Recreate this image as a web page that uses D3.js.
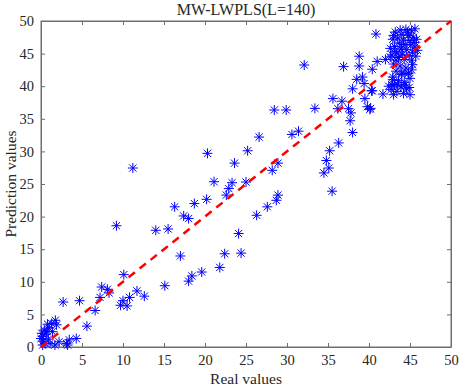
<!DOCTYPE html>
<html>
<head>
<meta charset="utf-8">
<script src="https://cdn.jsdelivr.net/npm/d3@7"></script>
<style>
html,body{margin:0;padding:0;background:#fff;}
svg{display:block;}
text{font-family:"Liberation Serif","Times New Roman",serif;fill:#262626;}
</style>
</head>
<body>
<script>
const titleText = "MW-LWPLS(L=140)";
const xLabel = "Real values";
const yLabel = "Prediction values";
const xTicks = [0,5,10,15,20,25,30,35,40,45,50];
const yTicks = [0,5,10,15,20,25,30,35,40,45,50];
const domainX = [0,50];
const domainY = [0,50];

// Real values
const realValues = [
 0.0,0.2,0.1,0.4,0.6,0.9,1.0,0.8,1.3,1.75,1.9,1.4,0.5,0.2,1.1,1.7,2.2,3.1,3.45,4.3,3.25,2.7,4.7,7.2,6.6,5.6,0.3,0.7,
 7.4,8.1,8.3,10.0,9.7,10.5,10.8,11.7,12.6,10.1,15.1,9.2,14.0,15.5,17.0,16.3,18.7,20.2,17.4,18.0,18.4,18.0,19.6,21.8,22.4,21.1,22.9,22.6,11.2,
 32.1,36.9,38.8,40.4,41.0,38.5,39.2,39.4,38.0,40.4,35.6,36.7,39.5,36.2,37.5,37.8,39.8,40.1,37.7,38.0,33.4,28.45,29.9,31.4,30.6,26.6,36.3,35.2,25.2,20.3,23.6,34.8,35.1,34.5,28.9,28.2,35.5,23.3,25.0,28.9,28.7,27.6,26.3,24.1,24.4,38.8,
 40.85,42.0,42.6,43.2,44.0,44.8,42.9,42.8,43.5,44.4,40.3,41.7,40.2,45.2,44.9,45.0,
 43.2,43.8,44.5,45.2,45.6,44.0,44.8,45.4,43.5,42.9,44.2,45.0,45.8,43.7,44.4,45.1,45.6,43.1,42.6,43.9,44.6,45.3,43.4,44.1,44.9,45.7,42.8,43.6,44.3,45.2,45.9,44.7,43.0,45.5,44.0,43.3,
 43.0,43.8,44.5,43.3,44.0,44.8,42.9,43.6,44.3,43.1,43.9,44.6,42.7,43.4,44.2,43.0,42.4,45.0,45.3
];
// Prediction values
const predValues = [
 1.3,1.6,2.1,2.6,1.95,1.2,2.9,3.5,3.6,4.1,3.4,2.35,0.55,0.3,0.55,0.3,0.8,0.55,1.1,1.3,0.3,6.9,7.1,7.6,5.6,3.2,0.9,2.4,
 9.2,8.85,8.3,7.1,6.4,6.3,7.6,8.6,7.8,11.1,9.4,18.6,17.9,18.1,13.96,21.5,22.0,22.65,20.1,19.7,10.9,10.1,11.5,12.2,14.3,25.35,24.3,23.3,27.45,
 43.25,43.0,43.1,42.6,43.8,41.05,41.4,40.4,39.6,39.3,38.1,37.7,38.1,36.55,36.55,35.9,36.85,36.45,34.7,32.9,36.6,36.35,36.35,33.1,32.6,32.2,31.3,30.1,30.1,29.7,28.2,28.6,27.45,26.7,28.2,27.1,23.9,25.2,25.3,23.3,22.5,21.5,20.2,17.4,14.4,44.6,
 48.0,44.1,44.5,45.3,42.0,42.0,41.0,40.2,40.2,40.2,39.3,38.8,36.6,42.5,39.8,38.7,
 48.3,48.6,48.7,48.5,48.8,47.9,47.8,47.5,47.4,47.2,47.1,47.0,47.2,46.6,46.4,46.3,46.0,46.1,45.8,45.7,45.6,45.2,45.1,44.9,44.7,44.6,44.8,44.4,44.1,44.0,45.5,48.2,47.8,46.7,46.0,44.0,
 43.4,43.1,42.8,42.3,41.8,42.0,41.4,40.9,40.6,40.2,39.9,39.6,39.5,39.2,38.9,38.7,40.0,41.2,43.3
];

const W = 461, H = 388;
const m = {left:41, right:10, top:21, bottom:41};
const svg = d3.select("body").append("svg").attr("width",W).attr("height",H);

const x = d3.scaleLinear().domain(domainX).range([m.left, W-m.right]);
const y = d3.scaleLinear().domain(domainY).range([H-m.bottom, m.top]);

const axisColor = "#6e6e6e";
svg.append("rect").attr("x",x(0)).attr("y",y(50)).attr("width",x(50)-x(0)).attr("height",y(0)-y(50))
  .attr("fill","#fff").attr("stroke",axisColor).attr("stroke-width",1);

const tl = 4;
const bottomAxis = d3.axisBottom(x).tickValues(xTicks).tickSizeInner(-tl).tickSizeOuter(0).tickPadding(8);
const gx = svg.append("g").attr("transform",`translate(0,${y(0)})`).call(bottomAxis);
const topAxis = d3.axisTop(x).tickValues(xTicks).tickSizeInner(-tl).tickSizeOuter(0).tickFormat("");
const gxt = svg.append("g").attr("transform",`translate(0,${y(50)})`).call(topAxis);
const leftAxis = d3.axisLeft(y).tickValues(yTicks).tickSizeInner(-tl).tickSizeOuter(0).tickPadding(7);
const gy = svg.append("g").attr("transform",`translate(${x(0)},0)`).call(leftAxis);
const rightAxis = d3.axisRight(y).tickValues(yTicks).tickSizeInner(-tl).tickSizeOuter(0).tickFormat("");
const gyr = svg.append("g").attr("transform",`translate(${x(50)},0)`).call(rightAxis);
[gx,gxt,gy,gyr].forEach(g=>{
  g.select(".domain").attr("stroke",axisColor);
  g.selectAll(".tick line").attr("stroke",axisColor);
  g.selectAll(".tick text").attr("font-size","14.5px").attr("fill","#262626")
   .attr("font-family","'Liberation Serif','Times New Roman',serif");
});

const pts = realValues.map((v,i)=>({x:v,y:predValues[i]}));
const r = 5, rd = 3.6;
const mk = svg.append("g").attr("stroke","#0000ff").attr("stroke-width",1).attr("fill","none");
pts.forEach(p=>{
  const cx = x(p.x), cy = y(p.y);
  mk.append("path").attr("d",
    `M${cx-r},${cy}L${cx+r},${cy}M${cx},${cy-r}L${cx},${cy+r}` +
    `M${cx-rd},${cy-rd}L${cx+rd},${cy+rd}M${cx-rd},${cy+rd}L${cx+rd},${cy-rd}`);
});

svg.append("line").attr("x1",x(0)).attr("y1",y(0)).attr("x2",x(50)).attr("y2",y(50))
  .attr("stroke","#ff0000").attr("stroke-width",2.5).attr("stroke-dasharray","8,6");

svg.append("text").attr("x",(x(0)+x(50))/2).attr("y",15).attr("text-anchor","middle")
  .attr("font-size","16px").text(titleText);
svg.append("text").attr("x",(x(0)+x(50))/2).attr("y",384).attr("text-anchor","middle")
  .attr("font-size","15.5px").text(xLabel);
svg.append("text").attr("transform",`translate(16,${(y(0)+y(50))/2}) rotate(-90)`).attr("text-anchor","middle")
  .attr("font-size","15.5px").text(yLabel);
</script>
</body>
</html>
